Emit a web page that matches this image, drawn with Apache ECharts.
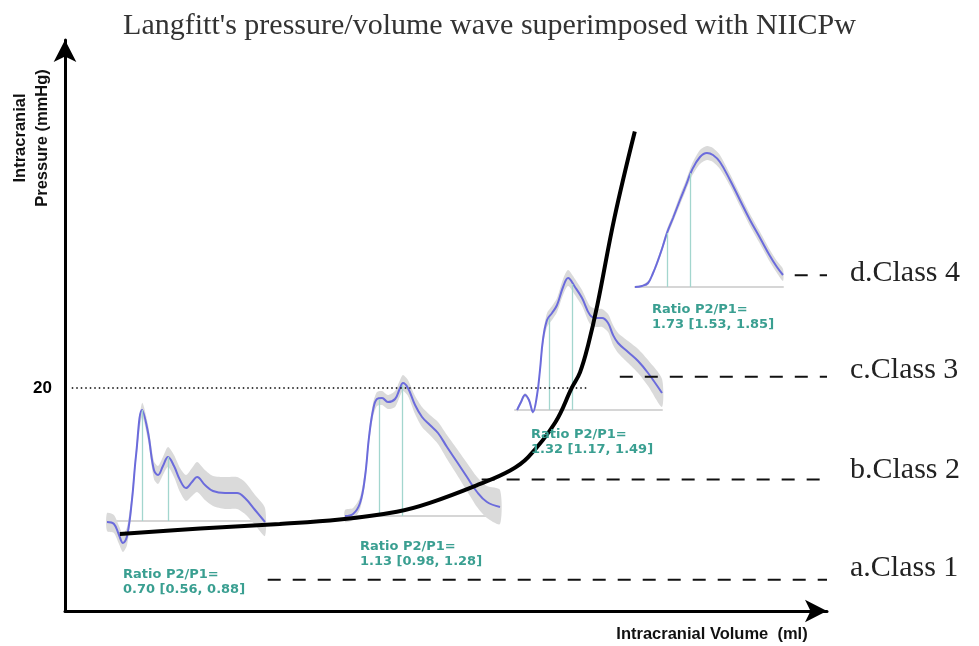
<!DOCTYPE html>
<html>
<head>
<meta charset="utf-8">
<script src="https://cdn.jsdelivr.net/npm/echarts@6/dist/echarts.min.js"></script>
<style>
  html, body { margin: 0; padding: 0; background: #fff; }
  #main { width: 979px; height: 646px; }
</style>
</head>
<body>
<div id="main"></div>
<script>
// Langfitt curve (volume in a.u., pressure in mmHg)
var volume   = [7.3, 18.0, 28.6, 36.6, 44.2, 48.6, 55.3, 59.3, 61.7, 65.3, 67.5, 68.6, 69.7, 70.9, 73.2, 75.9];
var pressure = [6.9, 7.4, 7.8, 8.2, 8.9, 9.7, 11.4, 12.6, 13.8, 16.9, 20.0, 21.4, 23.9, 27.4, 35.3, 43.0];
var refPressure = 20;
var refRange = [0.9, 69.6];

// class reference levels
var classNames = ['a.Class 1', 'b.Class 2', 'c.Class 3', 'd.Class 4'];
var classLevel = [2.8, 11.8, 21.0, 30.1];
var classStart = [27.0, 55.5, 73.9, 97.2];
var classEnd = 101.5;

// NIICPw mean waves: time (% of pulse), amplitude (a.u.), band half width
var wave1T = [0, 4.4, 7.6, 10.1, 12.7, 15.8, 18.4, 22.2, 25.9, 29.7, 32.3, 35.4, 38.6, 42.4, 46.2, 50.0, 53.8, 57.0, 62.0, 67.1, 74.7, 82.3, 87.3, 93.7, 100];
var wave1A = [-1, -3, -14, -22, -15, 21, 66, 111, 89, 51, 46, 55, 64, 55, 41, 33, 39, 44, 36, 30, 28, 28, 23, 11, -1];
var wave1B = [9, 9, 9, 9, 9, 8, 7, 7, 8, 9, 9, 9, 10, 11, 12, 13, 14, 15, 15, 15, 16, 16, 16, 15, 14];

var wave2T = [0, 5.2, 9.7, 12.9, 15.5, 18.1, 20.6, 23.9, 27.7, 32.3, 35.5, 37.4, 40.6, 45.2, 49.7, 54.8, 60.0, 65.8, 72.3, 78.7, 85.2, 91.6, 100];
var wave2A = [0, 2, 13, 39, 79, 106, 117, 118, 114, 117, 128, 133, 128, 111, 99, 91, 83, 69, 54, 39, 24, 14, 9];
var wave2B = [6, 6, 6, 7, 7, 7, 7, 7, 7, 8, 8, 8, 8, 9, 10, 10, 11, 12, 13, 14, 15, 16, 17];

var wave3T = [1.4, 4.1, 6.8, 9.5, 12.2, 15.0, 17.0, 19.0, 21.8, 25.2, 28.6, 32.7, 36.1, 40.8, 45.6, 51.0, 55.1, 59.2, 63.3, 66.7, 70.1, 76.9, 83.7, 90.5, 100];
var wave3A = [0, 8, 15, 10, -2, 15, 40, 70, 90, 97, 105, 123, 132, 123, 112, 95, 92, 92, 87, 75, 67, 58, 49, 37, 17];
var wave3B = [2, 2, 2, 2, 2, 3, 5, 6, 7, 7, 7, 8, 8, 8, 8, 9, 9, 9, 9, 10, 10, 11, 12, 13, 14];

var wave4T = [0, 4.7, 8.8, 12.2, 14.9, 18.2, 21.6, 25.7, 30.4, 34.5, 38.5, 43.9, 48.6, 52.7, 57.4, 64.2, 70.9, 77.7, 84.5, 91.2, 95.9, 100];
var wave4A = [0, 1, 4, 14, 24, 38, 54, 69, 87, 102, 117, 130, 134, 132, 125, 107, 87, 67, 49, 31, 20, 12];
var wave4B = [1, 1, 2, 2, 3, 3, 4, 4, 5, 5, 6, 7, 7, 7, 7, 6, 6, 6, 6, 6, 6, 6];

// P1 / P2 markers [time, amplitude]
var peaks1 = [[22.2, 111], [38.6, 64]];
var peaks2 = [[21.9, 117], [36.8, 131]];
var peaks3 = [[23.1, 92], [38.8, 126]];
var peaks4 = [[21.6, 54], [37.2, 114]];

var ratioText = ['0.70 [0.56, 0.88]', '1.13 [0.98, 1.28]', '1.32 [1.17, 1.49]', '1.73 [1.53, 1.85]'];

// inset layout (px)
var insetLeft  = [107, 345, 515, 635];
var insetWidth = [158, 155, 147, 148];
var insetBase  = [521, 516, 410, 287];
var ratioPos   = [[123, 567], [360, 539], [531, 427], [652, 302]];
var classLift  = [-12, -9, -7, -2];

var waves = [
  {t: wave1T, a: wave1A, b: wave1B, p: peaks1},
  {t: wave2T, a: wave2A, b: wave2B, p: peaks2},
  {t: wave3T, a: wave3A, b: wave3B, p: peaks3},
  {t: wave4T, a: wave4A, b: wave4B, p: peaks4}
];

var myChart = echarts.init(document.getElementById('main'));

var arrowAxis = {
  show: true, onZero: false,
  symbol: ['none', 'arrow'], symbolSize: [17, 22],
  lineStyle: {color: '#000', width: 3}
};

var grids = [{left: 65, right: 152, top: 40, bottom: 35}];
var xAxes = [{
  gridIndex: 0, type: 'value', min: 0, max: 101.5,
  axisLine: arrowAxis, axisTick: {show: false}, axisLabel: {show: false}, splitLine: {show: false}
}];
var yAxes = [{
  gridIndex: 0, type: 'value', min: 0, max: 51.2,
  axisLine: arrowAxis, axisTick: {show: false}, splitLine: {show: false},
  axisLabel: {customValues: [refPressure], fontSize: 17, fontWeight: 'bold', color: '#000',
    fontFamily: 'Liberation Sans', margin: 13}
}];

var series = [];

waves.forEach(function (w, i) {
  var k = i + 1;
  grids.push({left: insetLeft[i], width: insetWidth[i], top: insetBase[i] - 150, height: 190});
  xAxes.push({
    gridIndex: k, type: 'value', min: 0, max: 100,
    axisLine: {show: true, onZero: true, lineStyle: {color: '#d6d6d6', width: 2}},
    axisTick: {show: false}, axisLabel: {show: false}, splitLine: {show: false}
  });
  yAxes.push({
    gridIndex: k, type: 'value', min: -40, max: 150,
    axisLine: {show: false}, axisTick: {show: false}, axisLabel: {show: false}, splitLine: {show: false}
  });
  // confidence band as one smoothed polygon
  series.push({
    type: 'custom', xAxisIndex: k, yAxisIndex: k, silent: true, z: 1,
    data: w.t.map(function (t, j) { return [t, w.a[j] - w.b[j], w.a[j] + w.b[j]]; }),
    encode: {x: 0, y: [1, 2]},
    renderItem: function (params, api) {
      if (params.dataIndex !== 0) return;
      var up = [], lo = [];
      for (var j = 0; j < w.t.length; j++) {
        up.push(api.coord([w.t[j], w.a[j] + w.b[j]]));
        lo.push(api.coord([w.t[j], w.a[j] - w.b[j]]));
      }
      return {
        type: 'polygon',
        shape: {points: up.concat(lo.reverse()), smooth: 0.25},
        style: {fill: '#dadada'}
      };
    }
  });
  series.push({
    type: 'line', xAxisIndex: k, yAxisIndex: k,
    data: w.t.map(function (t, j) { return [t, w.a[j]]; }),
    smooth: 0.4, symbol: 'none', lineStyle: {color: '#6b6bdc', width: 2}, z: 3,
    markLine: {
      silent: true, symbol: 'none', label: {show: false},
      lineStyle: {color: '#a3d6ce', width: 1.3, type: 'solid'},
      data: w.p.map(function (p) { return [{coord: [p[0], 0]}, {coord: [p[0], p[1]]}]; })
    }
  });
});

// dotted 20 mmHg reference
series.push({
  type: 'line', xAxisIndex: 0, yAxisIndex: 0,
  data: [[refRange[0], refPressure], [refRange[1], refPressure]],
  symbol: 'none', lineStyle: {color: '#000', width: 1.5, type: [1.5, 3]}, z: 8
});

// class dashed lines
classNames.forEach(function (name, i) {
  series.push({
    type: 'line', xAxisIndex: 0, yAxisIndex: 0,
    data: [[classStart[i], classLevel[i]], [classEnd, classLevel[i]]],
    symbol: 'none', lineStyle: {color: '#111', width: 2, type: [13, 12]}, z: 8,
    endLabel: {
      show: true, formatter: name, distance: 23, offset: [0, classLift[i]],
      fontFamily: 'Liberation Serif', fontSize: 30, color: '#222'
    }
  });
});

// Langfitt curve
series.push({
  type: 'line', xAxisIndex: 0, yAxisIndex: 0,
  data: volume.map(function (v, i) { return [v, pressure[i]]; }),
  smooth: 0.4, symbol: 'none', lineStyle: {color: '#000', width: 4}, z: 10
});

var graphics = [
  {type: 'text', x: 20, y: 138, rotation: Math.PI / 2,
    style: {text: 'Intracranial', font: 'bold 16.5px "Liberation Sans"', fill: '#111', align: 'center', verticalAlign: 'middle'}},
  {type: 'text', x: 42, y: 138, rotation: Math.PI / 2,
    style: {text: 'Pressure (mmHg)', font: 'bold 16.5px "Liberation Sans"', fill: '#111', align: 'center', verticalAlign: 'middle'}},
  {type: 'text', x: 712, y: 634,
    style: {text: 'Intracranial Volume  (ml)', font: 'bold 16.5px "Liberation Sans"', fill: '#111', align: 'center', verticalAlign: 'middle'}}
];
ratioText.forEach(function (txt, i) {
  graphics.push({
    type: 'text', x: ratioPos[i][0], y: ratioPos[i][1], z: 20,
    style: {text: 'Ratio P2/P1=\n' + txt, font: 'bold 13px "DejaVu Sans"', fill: '#3a9f91', lineHeight: 15}
  });
});

var option = {
  animation: false,
  title: {
    text: "Langfitt's pressure/volume wave superimposed with NIICPw",
    left: 'center', top: 6,
    textStyle: {fontFamily: 'Liberation Serif', fontSize: 30, fontWeight: 'normal', color: '#333'}
  },
  grid: grids,
  xAxis: xAxes,
  yAxis: yAxes,
  series: series,
  graphic: graphics
};

myChart.setOption(option);
window.onresize = function () {
  myChart.resize();
};
</script>
</body>
</html>
